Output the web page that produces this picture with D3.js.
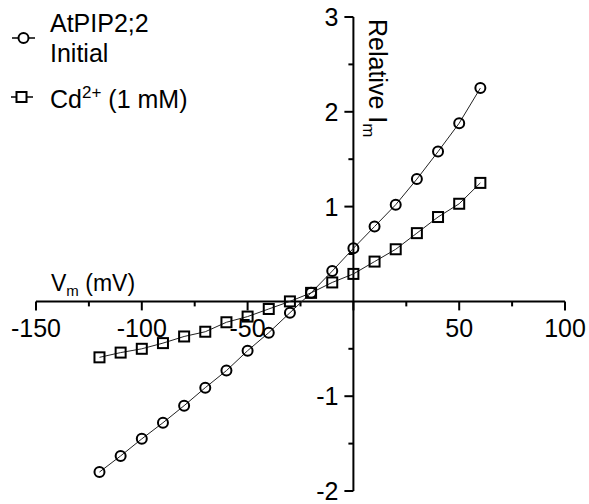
<!DOCTYPE html>
<html>
<head>
<meta charset="utf-8">
<script src="https://cdn.jsdelivr.net/npm/d3@7"></script>
<style>
  html, body { margin: 0; padding: 0; background: #fff; }
  svg { display: block; font-family: "Liberation Sans", Arial, sans-serif; }
</style>
</head>
<body>
<svg id="chart" width="589" height="504"></svg>
<script>
// Membrane voltage (mV)
const voltages = [-120, -110, -100, -90, -80, -70, -60, -50, -40, -30, -20, -10, 0, 10, 20, 30, 40, 50, 60];
// Relative current, AtPIP2;2 initial
const initialCurrent = [-1.80, -1.63, -1.45, -1.28, -1.10, -0.91, -0.73, -0.52, -0.33, -0.12, 0.09, 0.32, 0.56, 0.79, 1.02, 1.29, 1.58, 1.88, 2.25];
// Relative current with 1 mM Cd2+
const cadmiumCurrent = [-0.59, -0.54, -0.50, -0.44, -0.37, -0.32, -0.22, -0.16, -0.08, 0.00, 0.09, 0.20, 0.29, 0.42, 0.55, 0.72, 0.89, 1.03, 1.25];

const xTicks = [-150, -100, -50, 50, 100];
const xMinorTicks = [-125, -75, -25, 25, 75];
const yTicks = [-2, -1, 1, 2, 3];
const yMinorTicks = [-1.5, -0.5, 0.5, 1.5, 2.5];

const svg = d3.select("#chart");
const x = d3.scaleLinear().domain([-150, 100]).range([36, 565]);
const y = d3.scaleLinear().domain([-2, 3]).range([491, 17]);

const fontSize = 25;
const subSize = 17;

// X axis through y = 0
const xAxisG = svg.append("g").attr("transform", `translate(0,${y(0)})`);
xAxisG.append("line")
  .attr("x1", x(-150)).attr("x2", x(100))
  .attr("stroke", "#000").attr("stroke-width", 2);
xAxisG.selectAll(".xmaj").data([...xTicks, 0]).join("line")
  .attr("x1", d => x(d)).attr("x2", d => x(d))
  .attr("y1", 0).attr("y2", 9)
  .attr("stroke", "#000").attr("stroke-width", 2);
xAxisG.selectAll(".xmin").data(xMinorTicks).join("line")
  .attr("x1", d => x(d)).attr("x2", d => x(d))
  .attr("y1", 0).attr("y2", 5)
  .attr("stroke", "#000").attr("stroke-width", 2);
xAxisG.selectAll(".xlab").data(xTicks).join("text")
  .attr("x", d => x(d)).attr("y", 36)
  .attr("text-anchor", "middle")
  .attr("font-size", fontSize)
  .text(d => d);

// Y axis through x = 0
const yAxisG = svg.append("g").attr("transform", `translate(${x(0)},0)`);
yAxisG.append("line")
  .attr("y1", y(-2)).attr("y2", y(3))
  .attr("stroke", "#000").attr("stroke-width", 2);
yAxisG.selectAll(".ymaj").data(yTicks).join("line")
  .attr("x1", -9).attr("x2", 0)
  .attr("y1", d => y(d)).attr("y2", d => y(d))
  .attr("stroke", "#000").attr("stroke-width", 2);
yAxisG.selectAll(".ymin").data(yMinorTicks).join("line")
  .attr("x1", -5).attr("x2", 0)
  .attr("y1", d => y(d)).attr("y2", d => y(d))
  .attr("stroke", "#000").attr("stroke-width", 2);
yAxisG.selectAll(".ylab").data(yTicks).join("text")
  .attr("x", -15).attr("y", d => y(d) + 9)
  .attr("text-anchor", "end")
  .attr("font-size", fontSize)
  .text(d => d);

// Axis titles
const xTitle = svg.append("text")
  .attr("x", 51).attr("y", 291)
  .attr("font-size", 23);
xTitle.append("tspan").text("V");
xTitle.append("tspan").attr("font-size", 15).attr("dy", 5).text("m");
xTitle.append("tspan").attr("dy", -5).text(" (mV)");

const yTitle = svg.append("text")
  .attr("transform", `translate(369,19) rotate(90)`)
  .attr("font-size", fontSize);
yTitle.append("tspan").text("Relative I");
yTitle.append("tspan").attr("font-size", subSize).attr("dy", 6).text("m");

// Series
const series = [
  { name: "initial", values: initialCurrent, shape: "circle" },
  { name: "cadmium", values: cadmiumCurrent, shape: "square" }
];

const line = d3.line().x(d => x(d[0])).y(d => y(d[1]));

series.forEach(s => {
  const pts = voltages.map((v, i) => [v, s.values[i]]);
  svg.append("path")
    .datum(pts)
    .attr("d", line)
    .attr("fill", "none")
    .attr("stroke", "#222")
    .attr("stroke-width", 1);
  const g = svg.append("g");
  if (s.shape === "circle") {
    g.selectAll("circle").data(pts).join("circle")
      .attr("cx", d => x(d[0])).attr("cy", d => y(d[1]))
      .attr("r", 5)
      .attr("fill", "none").attr("stroke", "#000").attr("stroke-width", 2);
  } else {
    g.selectAll("rect").data(pts).join("rect")
      .attr("x", d => x(d[0]) - 5).attr("y", d => y(d[1]) - 5)
      .attr("width", 10).attr("height", 10)
      .attr("fill", "none").attr("stroke", "#000").attr("stroke-width", 2);
  }
});

// Legend
const legend = svg.append("g");
legend.append("line").attr("x1", 12).attr("x2", 35).attr("y1", 38).attr("y2", 38)
  .attr("stroke", "#000").attr("stroke-width", 1.5);
legend.append("circle").attr("cx", 23.5).attr("cy", 38).attr("r", 5)
  .attr("fill", "#fff").attr("stroke", "#000").attr("stroke-width", 2);
legend.append("text").attr("x", 50).attr("y", 32).attr("font-size", fontSize).text("AtPIP2;2");
legend.append("text").attr("x", 50).attr("y", 62).attr("font-size", fontSize).text("Initial");

legend.append("line").attr("x1", 11).attr("x2", 33).attr("y1", 97).attr("y2", 97)
  .attr("stroke", "#000").attr("stroke-width", 1.5);
legend.append("rect").attr("x", 16.5).attr("y", 92).attr("width", 10).attr("height", 10)
  .attr("fill", "#fff").attr("stroke", "#000").attr("stroke-width", 2);
const cdText = legend.append("text").attr("x", 50).attr("y", 108).attr("font-size", fontSize);
cdText.append("tspan").text("Cd");
cdText.append("tspan").attr("font-size", subSize).attr("dy", -10).text("2+");
cdText.append("tspan").attr("dy", 10).text(" (1 mM)");
</script>
</body>
</html>
